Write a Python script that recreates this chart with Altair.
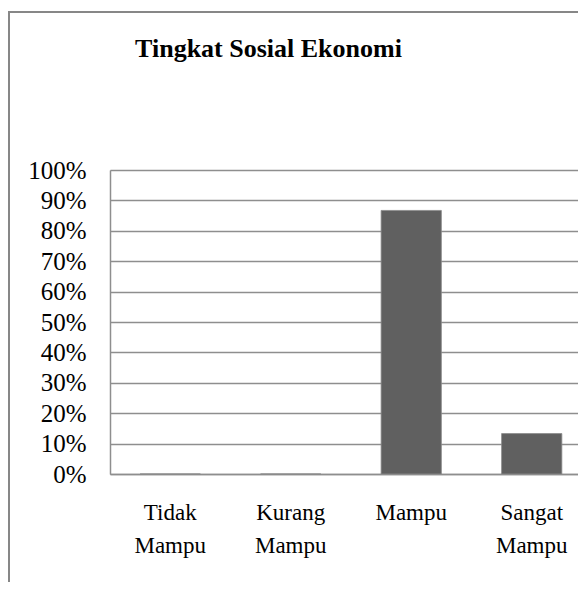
import altair as alt
import pandas as pd

categories = ["Tidak Mampu", "Kurang Mampu", "Mampu", "Sangat Mampu"]
values = [0.0, 0.0, 0.867, 0.133]
y_ticks = [0, 0.1, 0.2, 0.3, 0.4, 0.5, 0.6, 0.7, 0.8, 0.9, 1.0]
title_text = "Tingkat Sosial Ekonomi"

df = pd.DataFrame({"kategori": categories, "nilai": values})
frame_df = pd.DataFrame({"k": [0]})

FONT = "Liberation Serif, Times New Roman, serif"
GRID = "#8e8e8e"
FRAME = "#878787"

bars = alt.Chart(df).mark_bar(color="#606060", stroke="#8a8a8a", strokeWidth=0.8).encode(
    x=alt.X(
        "kategori:N",
        sort=categories,
        scale=alt.Scale(paddingInner=0.5, paddingOuter=0.192, align=0.651),
        axis=alt.Axis(
            title=None,
            labelAngle=0,
            labelExpr="split(datum.label, ' ')",
            labelFont=FONT,
            labelFontSize=23,
            labelColor="black",
            labelLineHeight=33,
            labelBaseline="top",
            labelPadding=27,
            ticks=False,
            domainColor=GRID,
            domainWidth=1.5,
            grid=False,
        ),
    ),
    y=alt.Y(
        "nilai:Q",
        scale=alt.Scale(domain=[0, 1], nice=False),
        axis=alt.Axis(
            title=None,
            values=y_ticks,
            format=".0%",
            labelFont=FONT,
            labelFontSize=25,
            labelColor="black",
            labelPadding=24,
            ticks=False,
            domainColor=GRID,
            domainWidth=1.5,
            gridColor=GRID,
            gridWidth=1.5,
        ),
    ),
)

frame_left = alt.Chart(frame_df).mark_rule(color=FRAME, strokeWidth=2).encode(
    x=alt.value(-101), y=alt.value(-158), y2=alt.value(420)
)
frame_top = alt.Chart(frame_df).mark_rule(color=FRAME, strokeWidth=2).encode(
    x=alt.value(-102), x2=alt.value(480), y=alt.value(-158)
)

chart = alt.layer(frame_left, frame_top, bars).properties(
    width=468,
    height=304,
    padding={"left": 102, "top": 162, "right": 0, "bottom": 108},
    autosize=alt.AutoSizeParams(type="none"),
    title=alt.TitleParams(
        text=title_text,
        font=FONT,
        fontSize=26,
        fontWeight="bold",
        color="black",
        anchor="middle",
        frame="group",
        baseline="alphabetic",
        offset=-71.5,
        dx=-75.5,
    ),
).configure_view(strokeWidth=0, stroke="transparent").configure(background="white")

chart.save("out.html", embed_options={"renderer": "svg", "actions": False})
